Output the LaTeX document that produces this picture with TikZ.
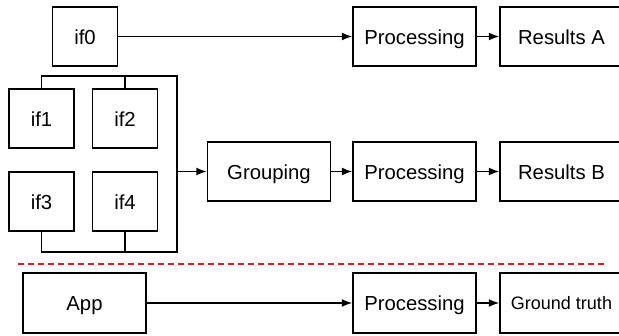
\documentclass[tikz,border=0pt]{standalone}
\usepackage{fontspec}
\setmainfont{Liberation Sans}
\usetikzlibrary{positioning,calc,arrows.meta}
\definecolor{Line}{HTML}{000000}
\definecolor{Cut}{HTML}{E8161B}

\begin{document}
\begin{tikzpicture}[
	x=1pt, y=-1pt,
	box/.style={draw=Line, line width=1.5pt, minimum width=123pt, minimum height=59pt,
		inner sep=0pt, text height=17pt, text depth=1pt, font=\fontsize{20.3}{24}\selectfont},
	src/.style={box, minimum width=65pt},
	flow/.style={draw=Line, line width=1.5pt, -{Latex[length=10.5pt,width=8pt]}},
	bracket/.style={draw=Line, line width=1.5pt}
	]
	\useasboundingbox (0,0) rectangle (619,336);
	
	% sources
	\node[src] (if0) at (85,36.5) {if0};
	\node[src] (if1) at (41.5,118.5) {if1};
	\node[src] (if2) at (125,118.5) {if2};
	\node[src] (if3) at (41.5,201.5) {if3};
	\node[src] (if4) at (125,201.5) {if4};
	\node[box, minimum height=60pt] (app) at (84.5,303) {App};
	
	% middle and right column
	\node[box] (grouping) at (269,171.5) {Grouping};
	\node[box] (procA) at (414.5,36.5) {Processing};
	\node[box] (procB) at (414.5,171.5) {Processing};
	\node[box, minimum height=60pt] (procC) at (414.5,303) {Processing};
	\node[box] (resA) at (561.5,36.5) {Results A};
	\node[box] (resB) at (561.5,171.5) {Results B};
	\node[box, minimum height=60pt, text height=15pt, text depth=2pt, font=\fontsize{18}{22}\selectfont] (truth) at (561.5,303) {Ground truth};
	
	% bracket round the four sources
	\coordinate (brTop) at (177,76);
	\coordinate (brBot) at (177,252);
	\coordinate (brMid) at (177,171.5);
	\draw[bracket] (if1.north) |- (brTop) -- (brBot) -| (if3.south);
	\draw[bracket] (if2.north) -- (if2.north |- brTop);
	\draw[bracket] (if4.south) -- (if4.south |- brBot);
	
	% arrows
	\draw[flow] (if0) -- (procA);
	\draw[flow] (procA) -- (resA);
	\draw[flow] (brMid) -- (grouping);
	\draw[flow] (grouping) -- (procB);
	\draw[flow] (procB) -- (resB);
	\draw[flow] (app) -- (procC);
	\draw[flow] (procC) -- (truth);
	
	% separator
	\coordinate (cutL) at (18,264);
	\coordinate (cutR) at (606,264);
	\draw[Cut, line width=1.5pt, dash pattern=on 6pt off 4pt] (cutL) -- (cutR);
\end{tikzpicture}
\end{document}
